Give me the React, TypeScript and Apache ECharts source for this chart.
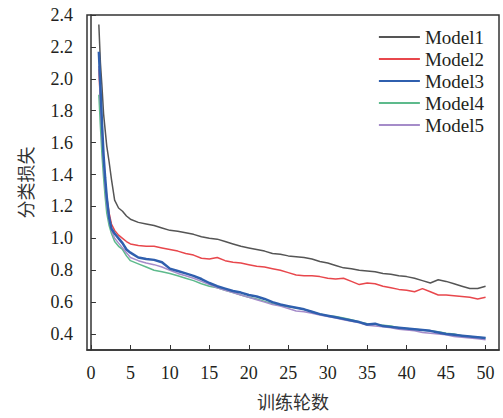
import React, { useEffect, useRef } from "react";
import * as echarts from "echarts";

const epochs = [1, 1.2, 1.4, 1.6, 1.8, 2, 2.3, 2.6, 3, 3.5, 4, 4.5, 5,
  6, 7, 8, 9, 10, 11, 12, 13, 14, 15, 16, 17, 18, 19, 20, 21, 22, 23, 24, 25,
  26, 27, 28, 29, 30, 31, 32, 33, 34, 35, 36, 37, 38, 39, 40, 41, 42, 43, 44, 45, 46, 47, 48, 49, 50];

const model1 = [2.34, 2.10, 1.95, 1.78, 1.68, 1.58, 1.48, 1.37, 1.24, 1.19, 1.17, 1.14, 1.12,
  1.10, 1.09, 1.08, 1.065, 1.05, 1.045, 1.035, 1.025, 1.01, 1.0, 0.995, 0.98, 0.965, 0.95, 0.94, 0.93, 0.92, 0.905, 0.90, 0.89,
  0.885, 0.88, 0.87, 0.855, 0.845, 0.83, 0.815, 0.81, 0.80, 0.795, 0.79, 0.78, 0.775, 0.765, 0.76, 0.75, 0.735, 0.72, 0.74, 0.73, 0.715, 0.70, 0.685, 0.685, 0.70];

const model2 = [2.06, 1.85, 1.65, 1.48, 1.36, 1.26, 1.16, 1.09, 1.05, 1.02, 1.0, 0.98, 0.965,
  0.955, 0.95, 0.95, 0.94, 0.93, 0.92, 0.905, 0.895, 0.875, 0.87, 0.88, 0.86, 0.85, 0.845, 0.835, 0.825, 0.82, 0.81, 0.80, 0.785,
  0.77, 0.765, 0.765, 0.76, 0.75, 0.745, 0.75, 0.73, 0.71, 0.72, 0.715, 0.70, 0.69, 0.68, 0.675, 0.665, 0.685, 0.665, 0.645, 0.645, 0.64, 0.635, 0.63, 0.62, 0.63];

const model3 = [2.17, 1.95, 1.72, 1.52, 1.38, 1.26, 1.13, 1.06, 1.03, 1.0, 0.97, 0.93, 0.91,
  0.88, 0.87, 0.865, 0.85, 0.81, 0.795, 0.78, 0.765, 0.745, 0.72, 0.70, 0.685, 0.67, 0.66, 0.645, 0.635, 0.62, 0.60, 0.585, 0.575,
  0.565, 0.555, 0.54, 0.525, 0.515, 0.505, 0.495, 0.485, 0.475, 0.46, 0.465, 0.45, 0.445, 0.44, 0.435, 0.43, 0.425, 0.42, 0.41, 0.40, 0.395, 0.39, 0.385, 0.38, 0.375];

const model4 = [1.90, 1.70, 1.52, 1.38, 1.26, 1.16, 1.08, 1.03, 0.98, 0.95, 0.93, 0.89, 0.86,
  0.84, 0.82, 0.80, 0.79, 0.78, 0.765, 0.75, 0.735, 0.715, 0.70, 0.69, 0.675, 0.66, 0.645, 0.63, 0.62, 0.605, 0.59, 0.58, 0.57,
  0.565, 0.555, 0.54, 0.525, 0.515, 0.51, 0.50, 0.49, 0.475, 0.465, 0.46, 0.455, 0.45, 0.44, 0.435, 0.43, 0.425, 0.42, 0.415, 0.405, 0.40, 0.39, 0.385, 0.38, 0.375];

const model5 = [2.08, 1.86, 1.64, 1.46, 1.32, 1.21, 1.11, 1.05, 1.0, 0.97, 0.94, 0.91, 0.88,
  0.86, 0.845, 0.835, 0.82, 0.80, 0.78, 0.765, 0.75, 0.73, 0.71, 0.69, 0.675, 0.66, 0.645, 0.63, 0.615, 0.60, 0.585, 0.575, 0.56,
  0.545, 0.54, 0.53, 0.52, 0.51, 0.50, 0.49, 0.48, 0.47, 0.455, 0.45, 0.445, 0.44, 0.43, 0.425, 0.42, 0.41, 0.405, 0.40, 0.395, 0.385, 0.38, 0.375, 0.37, 0.365];

const seriesNames = ["Model1", "Model2", "Model3", "Model4", "Model5"];
const seriesData = [model1, model2, model3, model4, model5];
const seriesColors = ["#555555", "#e8474c", "#2f5fae", "#5dba8c", "#a58cc9"];
const seriesWidths = [1.5, 1.5, 2.5, 1.5, 1.5];

const xTicks = [0, 5, 10, 15, 20, 25, 30, 35, 40, 45, 50];
const yTicks = [0.4, 0.6, 0.8, 1.0, 1.2, 1.4, 1.6, 1.8, 2.0, 2.2, 2.4];

const FONT = "Liberation Serif, serif";
const CJK = "Noto Sans CJK SC";
const TEXT = "#231f20";

export default function App() {
  const ref = useRef<HTMLDivElement>(null);
  useEffect(() => {
    if (!ref.current) return;
    const chart = echarts.init(ref.current, undefined, { renderer: "svg" });
    chart.setOption({
      animation: false,
      backgroundColor: "#fff",
      textStyle: { fontFamily: FONT, color: TEXT },
      grid: {
        left: 87, top: 15, right: 4, bottom: 68,
        show: true, borderColor: "#333", borderWidth: 1.5, backgroundColor: "transparent",
      },
      legend: {
        orient: "vertical",
        right: 14,
        top: 22,
        itemWidth: 41,
        itemHeight: 10,
        itemGap: 2,
        itemStyle: { opacity: 0 },
        textStyle: { fontFamily: FONT, fontSize: 19, color: TEXT, lineHeight: 20 },
        data: seriesNames,
      },
      xAxis: {
        type: "value",
        min: -0.5,
        max: 51.7,
        name: "训练轮数",
        nameLocation: "middle",
        nameGap: 42,
        nameTextStyle: { fontFamily: CJK, fontSize: 18, color: "#333" },
        axisLine: { show: true, lineStyle: { color: "#333", width: 1.5 } },
        axisTick: { show: true, inside: true, length: 5, customValues: xTicks, lineStyle: { color: "#333" } },
        axisLabel: { customValues: xTicks, fontSize: 18, color: TEXT, margin: 14, fontFamily: FONT },
        splitLine: { show: false },
      },
      yAxis: {
        type: "value",
        min: 0.3,
        max: 2.4,
        name: "分类损失",
        nameLocation: "middle",
        nameGap: 53,
        nameRotate: 90,
        nameTextStyle: { fontFamily: CJK, fontSize: 18, color: "#333" },
        axisLine: { show: true, lineStyle: { color: "#333", width: 1.5 } },
        axisTick: { show: true, inside: true, length: 5, customValues: yTicks, lineStyle: { color: "#333" } },
        axisLabel: {
          customValues: yTicks, fontSize: 18, color: TEXT, margin: 14, fontFamily: FONT,
          formatter: (v: number) => v.toFixed(1),
        },
        splitLine: { show: false },
      },
      series: seriesNames.map((name, i) => ({
        name,
        type: "line",
        symbol: "none",
        data: epochs.map((e, j) => [e, seriesData[i][j]]),
        lineStyle: { color: seriesColors[i], width: seriesWidths[i] },
        itemStyle: { color: seriesColors[i] },
        z: i === 2 ? 3 : 2,
      })),
    });
    return () => chart.dispose();
  }, []);
  return <div ref={ref} style={{ width: 503, height: 418, position: "absolute", left: 0, top: 0 }} />;
}
